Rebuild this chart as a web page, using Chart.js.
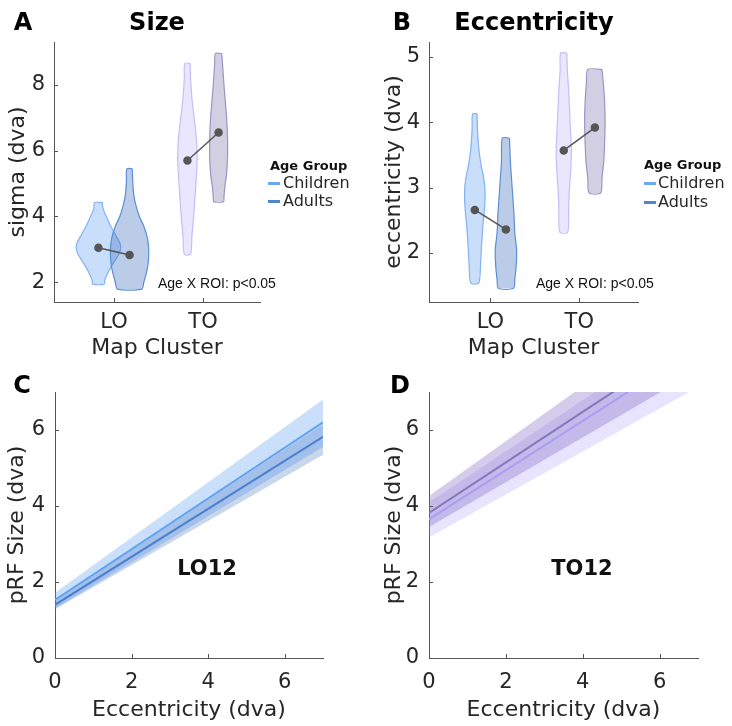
<!DOCTYPE html>
<html>
<head>
<meta charset="utf-8">
<script src="https://cdn.jsdelivr.net/npm/chart.js"></script>
<style>
  body { margin: 0; background: #fff; width: 732px; height: 726px; position: relative; overflow: hidden;
         font-family: "DejaVu Sans", sans-serif; color: #262626; }
  canvas { position: absolute; }
  .c { position: absolute; white-space: nowrap; line-height: 1; transform: translate(-50%, -50%); }
  .l { position: absolute; white-space: nowrap; line-height: 1; transform: translateY(-50%); }
  .letter { font-weight: bold; font-size: 24px; color: #000; }
  .ttl { font-weight: bold; font-size: 24px; color: #000; }
  .lgh { font-weight: bold; font-size: 13px; color: #111; }
  .lgi { font-size: 16px; color: #262626; }
  .sw { position: absolute; width: 12px; height: 3px; }
  .stat { font-family: "Liberation Sans", sans-serif; font-size: 14px; color: #111; }
  .roi { font-weight: bold; font-size: 21px; color: #111; }
</style>
</head>
<body>
<canvas id="pA" width="366" height="360" style="left:0;top:0"></canvas>
<canvas id="pB" width="366" height="360" style="left:366px;top:0"></canvas>
<canvas id="pC" width="366" height="366" style="left:0;top:360px"></canvas>
<canvas id="pD" width="366" height="366" style="left:366px;top:360px"></canvas>

<div class="c letter" style="left:23px;top:22px">A</div>
<div class="c ttl" style="left:157px;top:22px">Size</div>
<div class="c letter" style="left:402px;top:22px">B</div>
<div class="c ttl" style="left:534px;top:22px">Eccentricity</div>
<div class="c letter" style="left:22px;top:385px">C</div>
<div class="c letter" style="left:400px;top:385px">D</div>

<div class="l lgh" style="left:270px;top:165px">Age Group</div>
<div class="sw" style="left:268px;top:182px;background:#6aa8f0"></div>
<div class="l lgi" style="left:283px;top:183px">Children</div>
<div class="sw" style="left:268px;top:200px;background:#4f86d0"></div>
<div class="l lgi" style="left:283px;top:201px">Adults</div>

<div class="l lgh" style="left:644px;top:164px">Age Group</div>
<div class="sw" style="left:644px;top:182px;background:#6aa8f0"></div>
<div class="l lgi" style="left:658px;top:183px">Children</div>
<div class="sw" style="left:644px;top:201px;background:#4f86d0"></div>
<div class="l lgi" style="left:658px;top:202px">Adults</div>

<div class="l stat" style="left:158px;top:283px">Age X ROI: p&lt;0.05</div>
<div class="l stat" style="left:536px;top:283px">Age X ROI: p&lt;0.05</div>

<div class="c roi" style="left:207px;top:568px">LO12</div>
<div class="c roi" style="left:582px;top:568px">TO12</div>

<script>
// categories and tick labels
const clusters = ['LO', 'TO'];
const sizeTicks = [2, 4, 6, 8];
const eccTicks = [2, 3, 4, 5];
const fitTicks = [0, 2, 4, 6];
const fitXTicks = [0, 2, 4, 6];

// group means per cluster (LO, TO)
const sizeChild = [3.05, 5.7];
const sizeAdult = [2.83, 6.55];
const eccChild = [2.66, 3.57];
const eccAdult = [2.36, 3.92];

// violin outlines: [value, half width], top to bottom
const sizeLoChild = [[4.42,0.045],[4.25,0.05],[4.05,0.08],[3.75,0.13],[3.45,0.19],[3.2,0.24],[3.05,0.25],[2.85,0.23],[2.55,0.16],[2.25,0.1],[2.05,0.07],[1.94,0.065]];
const sizeLoAdult = [[5.45,0.03],[5.1,0.035],[4.7,0.045],[4.35,0.07],[4.0,0.11],[3.7,0.16],[3.35,0.2],[3.0,0.215],[2.6,0.21],[2.3,0.19],[2.0,0.16],[1.79,0.135]];
const sizeToChild = [[8.65,0.03],[8.2,0.035],[7.6,0.05],[7.0,0.075],[6.4,0.1],[5.8,0.11],[5.2,0.1],[4.6,0.085],[4.0,0.07],[3.4,0.05],[2.85,0.035]];
const sizeToAdult = [[8.95,0.035],[8.6,0.045],[8.0,0.06],[7.5,0.075],[7.0,0.09],[6.4,0.1],[5.8,0.1],[5.3,0.09],[4.9,0.07],[4.6,0.06],[4.45,0.055]];
const eccLoChild = [[4.13,0.025],[3.9,0.03],[3.6,0.045],[3.35,0.07],[3.15,0.1],[2.95,0.115],[2.7,0.11],[2.4,0.09],[2.1,0.075],[1.85,0.065],[1.54,0.045]];
const eccLoAdult = [[3.76,0.04],[3.4,0.05],[3.0,0.07],[2.6,0.09],[2.3,0.1],[2.05,0.12],[1.8,0.115],[1.6,0.1],[1.46,0.085]];
const eccToChild = [[5.06,0.035],[4.8,0.04],[4.5,0.055],[4.2,0.065],[3.9,0.075],[3.6,0.085],[3.3,0.08],[3.0,0.065],[2.7,0.055],[2.32,0.045]];
const eccToAdult = [[4.81,0.08],[4.6,0.095],[4.3,0.11],[4.0,0.115],[3.7,0.11],[3.4,0.1],[3.15,0.08],[2.92,0.065]];

// linear fits, values at eccentricity 0 and 7
const fitEcc = [0, 7];
const loChildFit = [1.53, 6.2];
const loChildLo = [1.3, 5.55];
const loChildHi = [1.72, 6.8];
const loAdultFit = [1.4, 5.82];
const loAdultLo = [1.28, 5.35];
const loAdultHi = [1.52, 6.15];
const toChildFit = [3.65, 8.18];
const toChildLo = [3.17, 7.13];
const toChildHi = [4.1, 8.8];
const toAdultFit = [3.82, 8.47];
const toAdultLo = [3.45, 7.57];
const toAdultHi = [4.26, 9.32];

const axisColor = '#555';
const textColor = '#262626';
const off = 0.175;

// MATLAB-style ticks pointing into the plot
const inTicks = {
  id: 'inTicks',
  afterDraw(chart) {
    const {ctx, chartArea: a, scales: {x, y}} = chart;
    ctx.save();
    ctx.strokeStyle = axisColor;
    ctx.lineWidth = 1;
    ctx.beginPath();
    x.ticks.forEach(t => {
      const px = Math.round(x.getPixelForValue(t.value)) + 0.5;
      ctx.moveTo(px, a.bottom); ctx.lineTo(px, a.bottom - 4);
    });
    y.ticks.forEach(t => {
      const py = Math.round(y.getPixelForValue(t.value)) + 0.5;
      ctx.moveTo(a.left, py); ctx.lineTo(a.left + 4, py);
    });
    ctx.stroke();
    ctx.restore();
  }
};

// one violin = outline + right edge filled to left edge (chart uses indexAxis 'y')
// tension > 0 keeps Chart.js off its x-sorted fast path
function violin(profile, c, fillColor, edgeColor, order) {
  const right = profile.map(([v, w]) => ({x: c + w, y: v}));
  const left = profile.map(([v, w]) => ({x: c - w, y: v}));
  const ring = right.concat(left.slice().reverse(), [right[0]]);
  return [
    {data: ring, fill: false, borderColor: edgeColor, borderWidth: 1.2, pointRadius: 0, tension: 0.25, order},
    {data: right, fill: '+1', backgroundColor: fillColor, borderWidth: 0, pointRadius: 0, tension: 0.25, order: order + 1},
    {data: left, fill: false, borderWidth: 0, pointRadius: 0, tension: 0.25, order: order + 1}
  ];
}

function means(child, adult) {
  return clusters.map((_, i) => ({
    data: [{x: i + 1 - off, y: child[i]}, {x: i + 1 + off, y: adult[i]}],
    borderColor: '#555', borderWidth: 1.5, pointRadius: 3.5,
    pointBackgroundColor: '#555', pointBorderColor: '#555', fill: false, order: 0
  }));
}

function fitLine(vals, color, width) {
  return {data: fitEcc.map((e, i) => ({x: e, y: vals[i]})), borderColor: color, borderWidth: width,
          pointRadius: 0, fill: false, order: 0};
}

function band(hi, lo, color, order) {
  return [
    {data: fitEcc.map((e, i) => ({x: e, y: hi[i]})), borderWidth: 0, pointRadius: 0,
     backgroundColor: color, fill: '+1', order},
    {data: fitEcc.map((e, i) => ({x: e, y: lo[i]})), borderWidth: 0, pointRadius: 0, fill: false, order}
  ];
}

function makeChart(id, datasets, o) {
  return new Chart(document.getElementById(id), {
    type: 'line',
    data: {datasets},
    options: {
      indexAxis: o.indexAxis || 'x',
      responsive: false,
      animation: false,
      events: [],
      layout: {padding: o.pad},
      plugins: {legend: {display: false}, tooltip: {enabled: false}},
      scales: {
        x: {
          type: 'linear', position: 'bottom', min: o.xMin, max: o.xMax,
          afterBuildTicks: s => { s.ticks = o.xTicks.map(v => ({value: v})); },
          afterFit: s => { s.height = o.xH; },
          grid: {display: false, drawTicks: false},
          border: {color: axisColor, width: 1},
          ticks: {color: textColor, font: {family: 'DejaVu Sans', size: 21}, padding: o.xPad,
                  autoSkip: false, maxRotation: 0, callback: o.xLabel},
          title: {display: true, text: o.xTitle, color: textColor,
                  font: {family: 'DejaVu Sans', size: 22, lineHeight: 1}, padding: {top: 0, bottom: o.xTitlePad}}
        },
        y: {
          type: 'linear', position: 'left', min: o.yMin, max: o.yMax,
          afterBuildTicks: s => { s.ticks = o.yTicks.map(v => ({value: v})); },
          afterFit: s => { s.width = o.yW; },
          grid: {display: false, drawTicks: false},
          border: {color: axisColor, width: 1},
          ticks: {color: textColor, font: {family: 'DejaVu Sans', size: 21}, padding: o.yPad},
          title: {display: true, text: o.yTitle, color: textColor,
                  font: {family: 'DejaVu Sans', size: 22, lineHeight: 1}, padding: {top: o.yTitlePad, bottom: 0}}
        }
      }
    },
    plugins: [inTicks]
  });
}

const clusterLabel = (v, i) => clusters[i];
const loChildCol = ['rgba(100,160,240,0.35)', '#80b3f0'];
const loAdultCol = ['rgba(60,110,190,0.35)', '#5b8ed6'];
const toChildCol = ['rgba(160,140,245,0.22)', '#c7bdf5'];
const toAdultCol = ['rgba(110,95,160,0.3)', '#9d93c6'];

makeChart('pA', [
  ...means(sizeChild, sizeAdult),
  ...violin(sizeLoChild, 1 - off, ...loChildCol, 5),
  ...violin(sizeLoAdult, 1 + off, ...loAdultCol, 3),
  ...violin(sizeToChild, 2 - off, ...toChildCol, 5),
  ...violin(sizeToAdult, 2 + off, ...toAdultCol, 3)
], {indexAxis: 'y', pad: {left: 0, top: 42, right: 106, bottom: 0}, xMin: 0.326, xMax: 2.64, yMin: 1.4, yMax: 9.3,
    xTicks: [1, 2], yTicks: sizeTicks, xLabel: clusterLabel, xH: 58, yW: 54, xPad: 8, yPad: 9,
    xTitle: 'Map Cluster', yTitle: 'sigma (dva)', xTitlePad: 1, yTitlePad: 7});

makeChart('pB', [
  ...means(eccChild, eccAdult),
  ...violin(eccLoChild, 1 - off, ...loChildCol, 5),
  ...violin(eccLoAdult, 1 + off, ...loAdultCol, 3),
  ...violin(eccToChild, 2 - off, ...toChildCol, 5),
  ...violin(eccToAdult, 2 + off, ...toAdultCol, 3)
], {indexAxis: 'y', pad: {left: 0, top: 42, right: 94, bottom: 0}, xMin: 0.31, xMax: 2.66, yMin: 1.25, yMax: 5.23,
    xTicks: [1, 2], yTicks: eccTicks, xLabel: clusterLabel, xH: 58, yW: 63, xPad: 8, yPad: 9,
    xTitle: 'Map Cluster', yTitle: 'eccentricity (dva)', xTitlePad: 1, yTitlePad: 17});

makeChart('pC', [
  fitLine(loChildFit, '#62a3ef', 2),
  fitLine(loAdultFit, '#4a80cf', 2),
  ...band(loAdultHi, loAdultLo, 'rgba(60,110,190,0.28)', 1),
  ...band(loChildHi, loChildLo, 'rgba(80,150,240,0.3)', 2)
], {pad: {left: 0, top: 32, right: 43, bottom: 0}, xMin: 0, xMax: 7, yMin: 0, yMax: 7,
    xTicks: fitXTicks, yTicks: fitTicks, xLabel: v => v, xH: 68, yW: 55, xPad: 12, yPad: 10,
    xTitle: 'Eccentricity (dva)', yTitle: 'pRF Size (dva)', xTitlePad: 5, yTitlePad: 6});

makeChart('pD', [
  fitLine(toChildFit, '#a99ff2', 2),
  fitLine(toAdultFit, '#8378bd', 2),
  ...band(toAdultHi, toAdultLo, 'rgba(110,90,190,0.3)', 1),
  ...band(toChildHi, toChildLo, 'rgba(150,130,245,0.22)', 2)
], {pad: {left: 0, top: 32, right: 34, bottom: 0}, xMin: 0, xMax: 7, yMin: 0, yMax: 7,
    xTicks: fitXTicks, yTicks: fitTicks, xLabel: v => v, xH: 68, yW: 63, xPad: 12, yPad: 10,
    xTitle: 'Eccentricity (dva)', yTitle: 'pRF Size (dva)', xTitlePad: 5, yTitlePad: 17});
</script>
</body>
</html>
